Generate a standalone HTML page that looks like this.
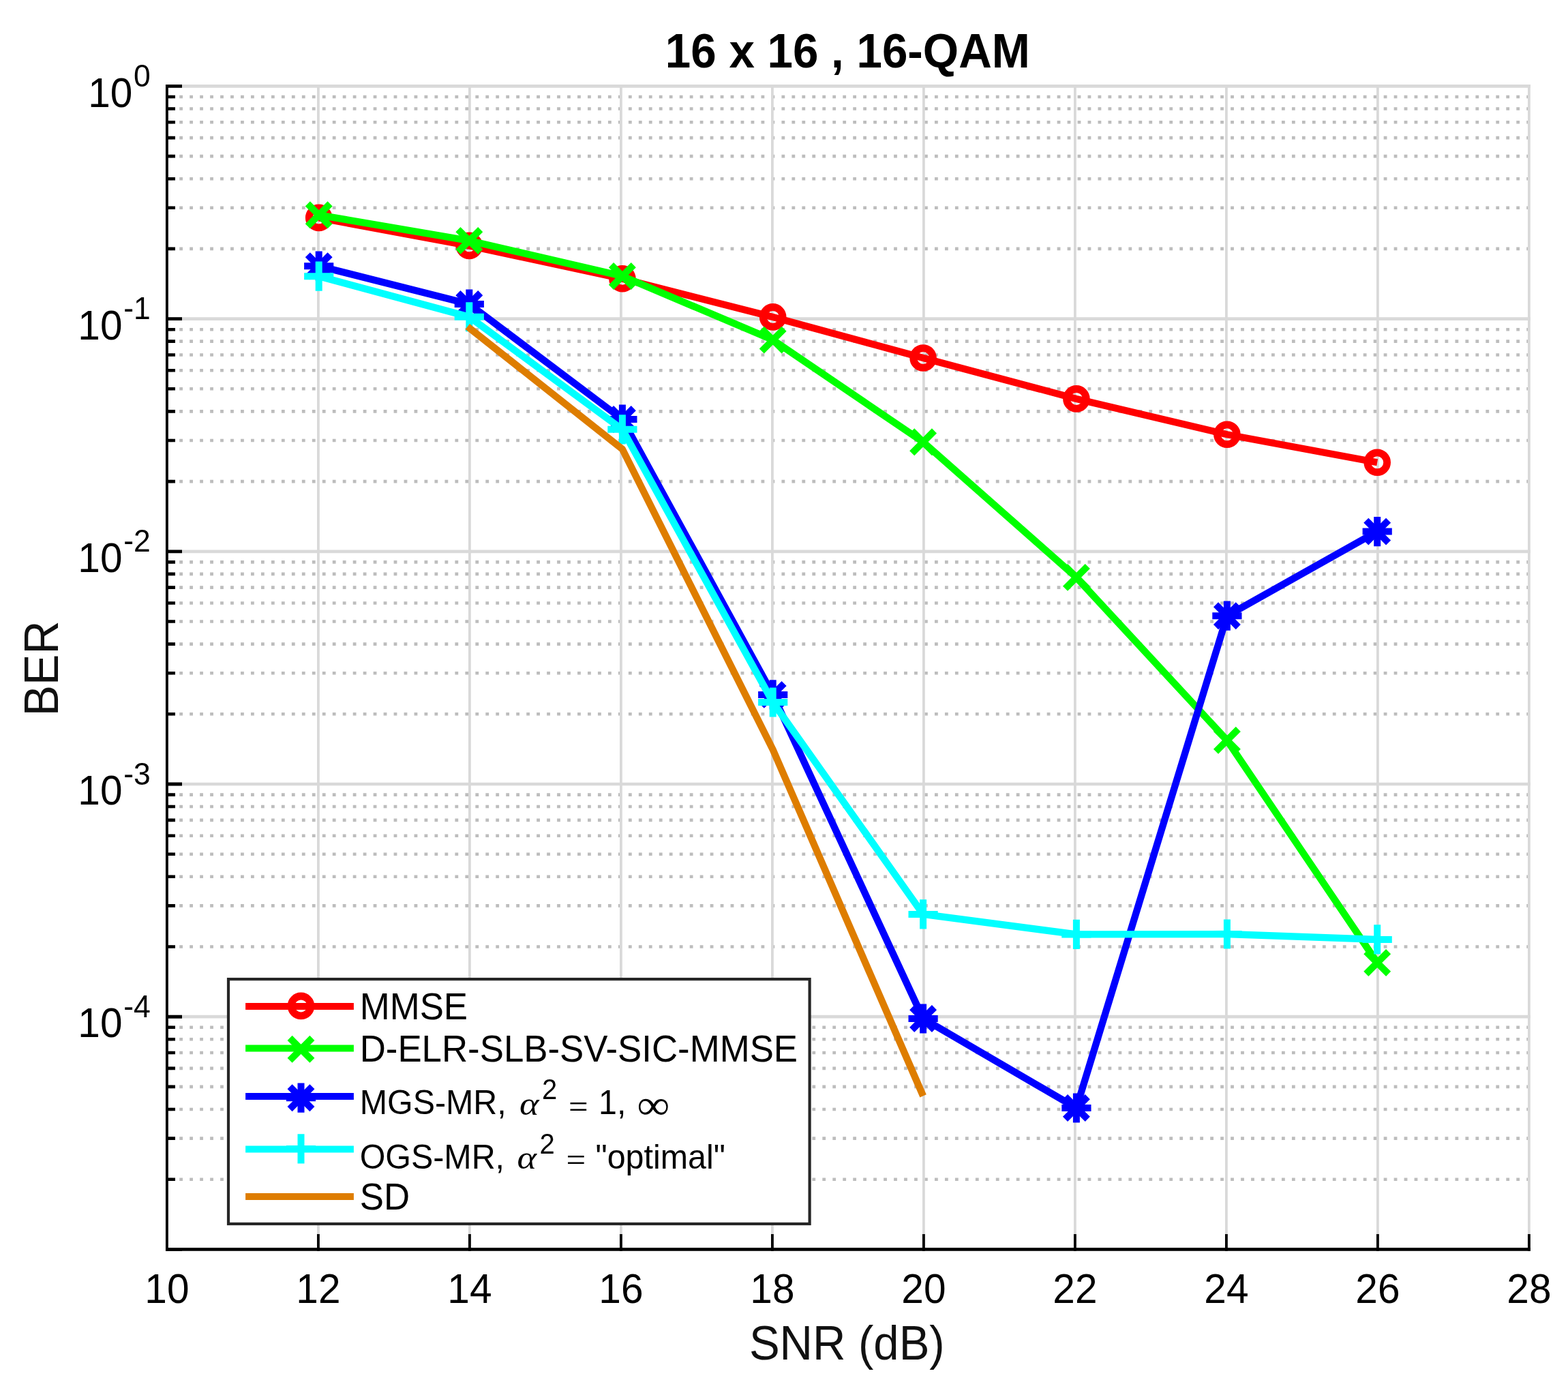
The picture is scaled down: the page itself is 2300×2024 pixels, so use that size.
<!DOCTYPE html>
<html><head><meta charset="utf-8"><title>16 x 16 , 16-QAM</title>
<style>html,body{margin:0;padding:0;background:#fff;}svg{display:block;}</style>
</head><body>
<svg width="2300" height="2024" viewBox="0 0 2300 2024">
<rect x="0" y="0" width="2300" height="2024" fill="#fff"/>
<path d="M248.25 1729.69H2243.90 M248.25 1669.61H2243.90 M248.25 1626.98H2243.90 M248.25 1593.91H2243.90 M248.25 1566.89H2243.90 M248.25 1544.05H2243.90 M248.25 1524.27H2243.90 M248.25 1506.81H2243.90 M248.25 1388.49H2243.90 M248.25 1328.41H2243.90 M248.25 1285.78H2243.90 M248.25 1252.71H2243.90 M248.25 1225.69H2243.90 M248.25 1202.85H2243.90 M248.25 1183.07H2243.90 M248.25 1165.61H2243.90 M248.25 1047.29H2243.90 M248.25 987.21H2243.90 M248.25 944.58H2243.90 M248.25 911.51H2243.90 M248.25 884.49H2243.90 M248.25 861.65H2243.90 M248.25 841.87H2243.90 M248.25 824.41H2243.90 M248.25 706.09H2243.90 M248.25 646.01H2243.90 M248.25 603.38H2243.90 M248.25 570.31H2243.90 M248.25 543.29H2243.90 M248.25 520.45H2243.90 M248.25 500.67H2243.90 M248.25 483.21H2243.90 M248.25 364.89H2243.90 M248.25 304.81H2243.90 M248.25 262.18H2243.90 M248.25 229.11H2243.90 M248.25 202.09H2243.90 M248.25 179.25H2243.90 M248.25 159.47H2243.90 M248.25 142.01H2243.90" stroke="#bdbdbd" stroke-width="4.6" stroke-dasharray="4.8 10.17" fill="none"/>
<path d="M466.90 124.10V1832.40 M688.90 124.10V1832.40 M910.90 124.10V1832.40 M1132.90 124.10V1832.40 M1354.90 124.10V1832.40 M1576.90 124.10V1832.40 M1798.90 124.10V1832.40 M2020.90 124.10V1832.40 M2242.90 124.10V1832.40" stroke="#d9d9d9" stroke-width="3.8" fill="none"/>
<path d="M244.90 126.40H2244.80 M244.90 467.60H2244.80 M244.90 808.80H2244.80 M244.90 1150.00H2244.80 M244.90 1491.20H2244.80" stroke="#d9d9d9" stroke-width="4.7" fill="none"/>
<path d="M243.00 126.40H267.00 M243.00 467.60H267.00 M243.00 808.80H267.00 M243.00 1150.00H267.00 M243.00 1491.20H267.00 M243.00 1832.40H267.00" stroke="#000" stroke-width="4.85" fill="none"/>
<path d="M243.00 1729.69H257.00 M243.00 1669.61H257.00 M243.00 1626.98H257.00 M243.00 1593.91H257.00 M243.00 1566.89H257.00 M243.00 1544.05H257.00 M243.00 1524.27H257.00 M243.00 1506.81H257.00 M243.00 1388.49H257.00 M243.00 1328.41H257.00 M243.00 1285.78H257.00 M243.00 1252.71H257.00 M243.00 1225.69H257.00 M243.00 1202.85H257.00 M243.00 1183.07H257.00 M243.00 1165.61H257.00 M243.00 1047.29H257.00 M243.00 987.21H257.00 M243.00 944.58H257.00 M243.00 911.51H257.00 M243.00 884.49H257.00 M243.00 861.65H257.00 M243.00 841.87H257.00 M243.00 824.41H257.00 M243.00 706.09H257.00 M243.00 646.01H257.00 M243.00 603.38H257.00 M243.00 570.31H257.00 M243.00 543.29H257.00 M243.00 520.45H257.00 M243.00 500.67H257.00 M243.00 483.21H257.00 M243.00 364.89H257.00 M243.00 304.81H257.00 M243.00 262.18H257.00 M243.00 229.11H257.00 M243.00 202.09H257.00 M243.00 179.25H257.00 M243.00 159.47H257.00 M243.00 142.01H257.00" stroke="#000" stroke-width="4.6" fill="none"/>
<path d="M466.90 1834.80V1810.00 M688.90 1834.80V1810.00 M910.90 1834.80V1810.00 M1132.90 1834.80V1810.00 M1354.90 1834.80V1810.00 M1576.90 1834.80V1810.00 M1798.90 1834.80V1810.00 M2020.90 1834.80V1810.00 M2242.90 1834.80V1810.00" stroke="#000" stroke-width="3.85" fill="none"/>
<path d="M244.90 124.10V1834.85" stroke="#000" stroke-width="3.9" fill="none"/>
<path d="M243.00 1832.40H2244.90" stroke="#000" stroke-width="4.85" fill="none"/>
<path d="M467.70 319.40 L688.30 360.40 L912.90 408.70 L1133.70 464.90 L1354.10 525.00 L1578.90 584.90 L1799.90 637.30 L2020.20 678.30" stroke="#ff0000" stroke-width="10.3" fill="none" stroke-linejoin="round" stroke-linecap="butt"/>
<circle cx="467.70" cy="319.40" r="14.4" stroke="#ff0000" stroke-width="10.8" fill="none"/><circle cx="688.30" cy="360.40" r="14.4" stroke="#ff0000" stroke-width="10.8" fill="none"/><circle cx="912.90" cy="408.70" r="14.4" stroke="#ff0000" stroke-width="10.8" fill="none"/><circle cx="1133.70" cy="464.90" r="14.4" stroke="#ff0000" stroke-width="10.8" fill="none"/><circle cx="1354.10" cy="525.00" r="14.4" stroke="#ff0000" stroke-width="10.8" fill="none"/><circle cx="1578.90" cy="584.90" r="14.4" stroke="#ff0000" stroke-width="10.8" fill="none"/><circle cx="1799.90" cy="637.30" r="14.4" stroke="#ff0000" stroke-width="10.8" fill="none"/><circle cx="2020.20" cy="678.30" r="14.4" stroke="#ff0000" stroke-width="10.8" fill="none"/>
<path d="M467.70 315.30 L688.30 353.00 L912.90 405.00 L1133.70 498.60 L1354.10 648.30 L1578.90 846.90 L1799.90 1085.80 L2020.20 1412.00" stroke="#00ff00" stroke-width="10.3" fill="none" stroke-linejoin="round" stroke-linecap="butt"/>
<path d="M451.30 298.90L484.10 331.70M451.30 331.70L484.10 298.90" stroke="#00ff00" stroke-width="10.0" fill="none"/><path d="M671.90 336.60L704.70 369.40M671.90 369.40L704.70 336.60" stroke="#00ff00" stroke-width="10.0" fill="none"/><path d="M896.50 388.60L929.30 421.40M896.50 421.40L929.30 388.60" stroke="#00ff00" stroke-width="10.0" fill="none"/><path d="M1117.30 482.20L1150.10 515.00M1117.30 515.00L1150.10 482.20" stroke="#00ff00" stroke-width="10.0" fill="none"/><path d="M1337.70 631.90L1370.50 664.70M1337.70 664.70L1370.50 631.90" stroke="#00ff00" stroke-width="10.0" fill="none"/><path d="M1562.50 830.50L1595.30 863.30M1562.50 863.30L1595.30 830.50" stroke="#00ff00" stroke-width="10.0" fill="none"/><path d="M1783.50 1069.40L1816.30 1102.20M1783.50 1102.20L1816.30 1069.40" stroke="#00ff00" stroke-width="10.0" fill="none"/><path d="M2003.80 1395.60L2036.60 1428.40M2003.80 1428.40L2036.60 1395.60" stroke="#00ff00" stroke-width="10.0" fill="none"/>
<path d="M467.70 390.20 L688.30 446.00 L912.90 615.00 L1133.70 1018.90 L1354.10 1494.00 L1578.90 1625.00 L1799.90 903.20 L2020.20 779.60" stroke="#0000ff" stroke-width="10.3" fill="none" stroke-linejoin="round" stroke-linecap="butt"/>
<path d="M446.10 390.20H489.30M467.70 368.60V411.80" stroke="#0000ff" stroke-width="10.0" fill="none"/><path d="M451.30 373.80L484.10 406.60M451.30 406.60L484.10 373.80" stroke="#0000ff" stroke-width="10.0" fill="none"/><path d="M666.70 446.00H709.90M688.30 424.40V467.60" stroke="#0000ff" stroke-width="10.0" fill="none"/><path d="M671.90 429.60L704.70 462.40M671.90 462.40L704.70 429.60" stroke="#0000ff" stroke-width="10.0" fill="none"/><path d="M891.30 615.00H934.50M912.90 593.40V636.60" stroke="#0000ff" stroke-width="10.0" fill="none"/><path d="M896.50 598.60L929.30 631.40M896.50 631.40L929.30 598.60" stroke="#0000ff" stroke-width="10.0" fill="none"/><path d="M1112.10 1018.90H1155.30M1133.70 997.30V1040.50" stroke="#0000ff" stroke-width="10.0" fill="none"/><path d="M1117.30 1002.50L1150.10 1035.30M1117.30 1035.30L1150.10 1002.50" stroke="#0000ff" stroke-width="10.0" fill="none"/><path d="M1332.50 1494.00H1375.70M1354.10 1472.40V1515.60" stroke="#0000ff" stroke-width="10.0" fill="none"/><path d="M1337.70 1477.60L1370.50 1510.40M1337.70 1510.40L1370.50 1477.60" stroke="#0000ff" stroke-width="10.0" fill="none"/><path d="M1557.30 1625.00H1600.50M1578.90 1603.40V1646.60" stroke="#0000ff" stroke-width="10.0" fill="none"/><path d="M1562.50 1608.60L1595.30 1641.40M1562.50 1641.40L1595.30 1608.60" stroke="#0000ff" stroke-width="10.0" fill="none"/><path d="M1778.30 903.20H1821.50M1799.90 881.60V924.80" stroke="#0000ff" stroke-width="10.0" fill="none"/><path d="M1783.50 886.80L1816.30 919.60M1783.50 919.60L1816.30 886.80" stroke="#0000ff" stroke-width="10.0" fill="none"/><path d="M1998.60 779.60H2041.80M2020.20 758.00V801.20" stroke="#0000ff" stroke-width="10.0" fill="none"/><path d="M2003.80 763.20L2036.60 796.00M2003.80 796.00L2036.60 763.20" stroke="#0000ff" stroke-width="10.0" fill="none"/>
<path d="M467.70 405.20 L688.30 464.75 L912.90 629.80 L1133.70 1030.00 L1354.10 1340.90 L1578.90 1370.40 L1799.90 1370.00 L2020.20 1377.90" stroke="#00ffff" stroke-width="10.3" fill="none" stroke-linejoin="round" stroke-linecap="butt"/>
<path d="M446.10 405.20H489.30M467.70 383.60V426.80" stroke="#00ffff" stroke-width="10.0" fill="none"/><path d="M666.70 464.75H709.90M688.30 443.15V486.35" stroke="#00ffff" stroke-width="10.0" fill="none"/><path d="M891.30 629.80H934.50M912.90 608.20V651.40" stroke="#00ffff" stroke-width="10.0" fill="none"/><path d="M1112.10 1030.00H1155.30M1133.70 1008.40V1051.60" stroke="#00ffff" stroke-width="10.0" fill="none"/><path d="M1332.50 1340.90H1375.70M1354.10 1319.30V1362.50" stroke="#00ffff" stroke-width="10.0" fill="none"/><path d="M1557.30 1370.40H1600.50M1578.90 1348.80V1392.00" stroke="#00ffff" stroke-width="10.0" fill="none"/><path d="M1778.30 1370.00H1821.50M1799.90 1348.40V1391.60" stroke="#00ffff" stroke-width="10.0" fill="none"/><path d="M1998.60 1377.90H2041.80M2020.20 1356.30V1399.50" stroke="#00ffff" stroke-width="10.0" fill="none"/>
<path d="M685.80 479.00 L912.90 658.70 L1133.70 1099.50 L1354.10 1607.40" stroke="#de7d00" stroke-width="10.3" fill="none" stroke-linejoin="round" stroke-linecap="butt"/>
<rect x="335.0" y="1436.1" width="852.6" height="358.9" fill="#fff" stroke="#262626" stroke-width="4.2"/>
<path d="M360.1 1476.0H518.9" stroke="#ff0000" stroke-width="10" fill="none"/>
<circle cx="441.50" cy="1475.40" r="14.4" stroke="#ff0000" stroke-width="10.8" fill="none"/>
<path d="M360.1 1537.5H518.9" stroke="#00ff00" stroke-width="10" fill="none"/>
<path d="M425.10 1522.40L457.90 1555.20M425.10 1555.20L457.90 1522.40" stroke="#00ff00" stroke-width="10.0" fill="none"/>
<path d="M360.1 1607.9H518.9" stroke="#0000ff" stroke-width="10" fill="none"/>
<path d="M419.90 1610.20H463.10M441.50 1588.60V1631.80" stroke="#0000ff" stroke-width="10.0" fill="none"/><path d="M425.10 1593.80L457.90 1626.60M425.10 1626.60L457.90 1593.80" stroke="#0000ff" stroke-width="10.0" fill="none"/>
<path d="M360.1 1685.5H518.9" stroke="#00ffff" stroke-width="10" fill="none"/>
<path d="M419.90 1684.90H463.10M441.50 1663.30V1706.50" stroke="#00ffff" stroke-width="10.0" fill="none"/>
<path d="M360.1 1754.9H518.9" stroke="#de7d00" stroke-width="10" fill="none"/>
<text transform="translate(527.70,1494.80) scale(1.0000,1.0436)" font-family="'Liberation Sans', Arial, Helvetica, sans-serif" font-size="52.8" font-weight="normal" font-style="normal" text-anchor="start" fill="#000">MMSE</text>
<text transform="translate(527.70,1556.90) scale(1.0000,1.0436)" font-family="'Liberation Sans', Arial, Helvetica, sans-serif" font-size="52.8" font-weight="normal" font-style="normal" text-anchor="start" fill="#000">D-ELR-SLB-SV-SIC-MMSE</text>
<text transform="translate(527.70,1634.20) scale(1.0000,1.0436)" font-family="'Liberation Sans', Arial, Helvetica, sans-serif" font-size="48.4" font-weight="normal" font-style="normal" text-anchor="start" fill="#000">MGS-MR,</text>
<text transform="translate(762.00,1635.00) scale(1.1000,1.0000)" font-family="'Liberation Serif', 'Times New Roman', serif" font-size="49.4" font-weight="normal" font-style="italic" text-anchor="start" fill="#000">α</text>
<text transform="translate(795.00,1612.30) scale(1.0000,1.0436)" font-family="'Liberation Sans', Arial, Helvetica, sans-serif" font-size="40.0" font-weight="normal" font-style="normal" text-anchor="start" fill="#000">2</text>
<text transform="translate(834.00,1638.50) scale(1.0500,1.0000)" font-family="'Liberation Serif', 'Times New Roman', serif" font-size="48.4" font-weight="normal" font-style="normal" text-anchor="start" fill="#000">=</text>
<text transform="translate(878.00,1634.30) scale(1.0000,1.0436)" font-family="'Liberation Sans', Arial, Helvetica, sans-serif" font-size="48.4" font-weight="normal" font-style="normal" text-anchor="start" fill="#000">1,</text>
<text transform="translate(934.50,1640.80) scale(1.1000,1.0000)" font-family="'Liberation Serif', 'Times New Roman', serif" font-size="61.0" font-weight="normal" font-style="normal" text-anchor="start" fill="#000">∞</text>
<text transform="translate(527.70,1713.60) scale(1.0000,1.0436)" font-family="'Liberation Sans', Arial, Helvetica, sans-serif" font-size="48.4" font-weight="normal" font-style="normal" text-anchor="start" fill="#000">OGS-MR,</text>
<text transform="translate(758.50,1714.00) scale(1.1000,1.0000)" font-family="'Liberation Serif', 'Times New Roman', serif" font-size="49.4" font-weight="normal" font-style="italic" text-anchor="start" fill="#000">α</text>
<text transform="translate(791.50,1691.50) scale(1.0000,1.0436)" font-family="'Liberation Sans', Arial, Helvetica, sans-serif" font-size="40.0" font-weight="normal" font-style="normal" text-anchor="start" fill="#000">2</text>
<text transform="translate(830.50,1717.30) scale(1.0500,1.0000)" font-family="'Liberation Serif', 'Times New Roman', serif" font-size="48.4" font-weight="normal" font-style="normal" text-anchor="start" fill="#000">=</text>
<text transform="translate(873.50,1713.50) scale(1.0000,1.0436)" font-family="'Liberation Sans', Arial, Helvetica, sans-serif" font-size="48.4" font-weight="normal" font-style="normal" text-anchor="start" fill="#000">"optimal"</text>
<text transform="translate(527.70,1773.60) scale(1.0000,1.0436)" font-family="'Liberation Sans', Arial, Helvetica, sans-serif" font-size="52.8" font-weight="normal" font-style="normal" text-anchor="start" fill="#000">SD</text>
<text transform="translate(244.90,1911.30) scale(1.0000,1.0436)" font-family="'Liberation Sans', Arial, Helvetica, sans-serif" font-size="58.6" font-weight="normal" font-style="normal" text-anchor="middle" fill="#000">10</text>
<text transform="translate(466.90,1911.30) scale(1.0000,1.0436)" font-family="'Liberation Sans', Arial, Helvetica, sans-serif" font-size="58.6" font-weight="normal" font-style="normal" text-anchor="middle" fill="#000">12</text>
<text transform="translate(688.90,1911.30) scale(1.0000,1.0436)" font-family="'Liberation Sans', Arial, Helvetica, sans-serif" font-size="58.6" font-weight="normal" font-style="normal" text-anchor="middle" fill="#000">14</text>
<text transform="translate(910.90,1911.30) scale(1.0000,1.0436)" font-family="'Liberation Sans', Arial, Helvetica, sans-serif" font-size="58.6" font-weight="normal" font-style="normal" text-anchor="middle" fill="#000">16</text>
<text transform="translate(1132.90,1911.30) scale(1.0000,1.0436)" font-family="'Liberation Sans', Arial, Helvetica, sans-serif" font-size="58.6" font-weight="normal" font-style="normal" text-anchor="middle" fill="#000">18</text>
<text transform="translate(1354.90,1911.30) scale(1.0000,1.0436)" font-family="'Liberation Sans', Arial, Helvetica, sans-serif" font-size="58.6" font-weight="normal" font-style="normal" text-anchor="middle" fill="#000">20</text>
<text transform="translate(1576.90,1911.30) scale(1.0000,1.0436)" font-family="'Liberation Sans', Arial, Helvetica, sans-serif" font-size="58.6" font-weight="normal" font-style="normal" text-anchor="middle" fill="#000">22</text>
<text transform="translate(1798.90,1911.30) scale(1.0000,1.0436)" font-family="'Liberation Sans', Arial, Helvetica, sans-serif" font-size="58.6" font-weight="normal" font-style="normal" text-anchor="middle" fill="#000">24</text>
<text transform="translate(2020.90,1911.30) scale(1.0000,1.0436)" font-family="'Liberation Sans', Arial, Helvetica, sans-serif" font-size="58.6" font-weight="normal" font-style="normal" text-anchor="middle" fill="#000">26</text>
<text transform="translate(2242.90,1911.30) scale(1.0000,1.0436)" font-family="'Liberation Sans', Arial, Helvetica, sans-serif" font-size="58.6" font-weight="normal" font-style="normal" text-anchor="middle" fill="#000">28</text>
<text transform="translate(220.8,156.60) scale(1,1.0436)" font-family="'Liberation Sans', Arial, Helvetica, sans-serif" font-size="58.6" text-anchor="end" fill="#000">10<tspan font-size="44.5" dx="1.7" dy="-28.36">0</tspan></text>
<text transform="translate(220.8,497.80) scale(1,1.0436)" font-family="'Liberation Sans', Arial, Helvetica, sans-serif" font-size="58.6" text-anchor="end" fill="#000">10<tspan font-size="44.5" dx="1.7" dy="-28.36">-1</tspan></text>
<text transform="translate(220.8,839.00) scale(1,1.0436)" font-family="'Liberation Sans', Arial, Helvetica, sans-serif" font-size="58.6" text-anchor="end" fill="#000">10<tspan font-size="44.5" dx="1.7" dy="-28.36">-2</tspan></text>
<text transform="translate(220.8,1180.20) scale(1,1.0436)" font-family="'Liberation Sans', Arial, Helvetica, sans-serif" font-size="58.6" text-anchor="end" fill="#000">10<tspan font-size="44.5" dx="1.7" dy="-28.36">-3</tspan></text>
<text transform="translate(220.8,1521.40) scale(1,1.0436)" font-family="'Liberation Sans', Arial, Helvetica, sans-serif" font-size="58.6" text-anchor="end" fill="#000">10<tspan font-size="44.5" dx="1.7" dy="-28.36">-4</tspan></text>
<text transform="translate(1242.30,1993.90) scale(0.9860,1.0436)" font-family="'Liberation Sans', Arial, Helvetica, sans-serif" font-size="68.0" font-weight="normal" font-style="normal" text-anchor="middle" fill="#111">SNR (dB)</text>
<text transform="translate(85.00,980.40) rotate(-90) scale(1.0000,1.0436)" font-family="'Liberation Sans', Arial, Helvetica, sans-serif" font-size="68.0" font-weight="normal" font-style="normal" text-anchor="middle" fill="#111">BER</text>
<text transform="translate(1243.30,98.90) scale(0.9900,1.0436)" font-family="'Liberation Sans', Arial, Helvetica, sans-serif" font-size="68.0" font-weight="bold" font-style="normal" text-anchor="middle" fill="#000">16 x 16 , 16-QAM</text>
</svg>
</body></html>
